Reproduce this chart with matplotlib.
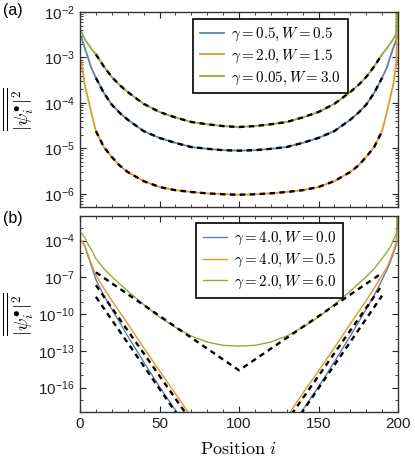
import numpy as np
import matplotlib
matplotlib.use("Agg")
import matplotlib.pyplot as plt
from matplotlib.ticker import LogLocator, MultipleLocator, FixedLocator, NullFormatter
from matplotlib.font_manager import FontProperties

plt.rcParams["font.family"] = "Liberation Sans"
plt.rcParams["mathtext.fontset"] = "custom"
plt.rcParams["mathtext.rm"] = "Liberation Sans"
plt.rcParams["mathtext.it"] = "Liberation Sans:italic"
plt.rcParams["mathtext.bf"] = "Liberation Sans:bold"

pos = [0, 1, 3, 5, 7, 10, 15, 20, 25, 30, 40, 50, 60, 70, 80, 90, 100,
       110, 120, 130, 140, 150, 160, 170, 175, 180, 185, 190, 193, 195, 197, 199, 200]

# panel (a), log10 of the averaged density
a_blue = [-2.54, -2.57, -2.79, -3.0, -3.22, -3.45, -3.78, -4.04, -4.22, -4.37, -4.62, -4.77, -4.88, -4.97, -5.01, -5.04, -5.05,
          -5.04, -5.01, -4.97, -4.88, -4.77, -4.62, -4.37, -4.22, -4.04, -3.78, -3.45, -3.22, -3.0, -2.79, -2.6, 0.0]
a_orange = [-3.05, -3.1, -3.6, -3.9, -4.2, -4.62, -4.97, -5.19, -5.38, -5.52, -5.72, -5.85, -5.92, -5.96, -5.99, -6.01, -6.02,
            -6.01, -5.99, -5.96, -5.92, -5.85, -5.72, -5.52, -5.38, -5.19, -4.97, -4.62, -4.2, -3.9, -3.6, -3.12, 0.0]
a_green = [-2.43, -2.44, -2.6, -2.7, -2.8, -2.93, -3.2, -3.43, -3.61, -3.76, -4.02, -4.2, -4.32, -4.42, -4.47, -4.51, -4.53,
           -4.51, -4.47, -4.42, -4.32, -4.2, -4.02, -3.76, -3.61, -3.43, -3.2, -2.93, -2.8, -2.7, -2.6, -2.47, 0.0]

# panel (b)
b_blue = [-4.0, -4.02, -4.45, -5.25, -6.0, -7.2, -8.5, -9.6, -10.7, -11.8, -13.9, -15.95, -17.85, -19.9, -21.7, -23.0, -23.4,
          -23.0, -21.7, -19.9, -17.85, -15.95, -13.9, -11.8, -10.7, -9.6, -8.5, -7.2, -6.4, -5.8, -5.1, -4.3, 0.0]
b_orange = [-3.97, -3.99, -4.4, -5.15, -5.85, -6.85, -7.9, -8.9, -9.85, -10.8, -12.75, -14.65, -16.5, -18.4, -20.1, -21.3, -21.7,
            -21.3, -20.1, -18.4, -16.5, -14.65, -12.75, -10.8, -9.85, -8.9, -7.9, -6.85, -6.2, -5.6, -4.9, -4.1, 0.0]
b_green = [-3.37, -3.4, -3.75, -4.3, -4.7, -5.47, -6.3, -6.95, -7.55, -8.13, -9.22, -10.25, -11.09, -11.8, -12.29, -12.56, -12.62,
           -12.56, -12.29, -11.8, -11.09, -10.25, -9.22, -8.13, -7.55, -6.95, -6.3, -5.47, -4.95, -4.55, -4.0, -3.42, 0.0]

# asymptotic (dashed) estimates in panel (b)
fit_pos = [10, 100, 190]
fit_blue = [-8.6, -25.5, -8.5]
fit_orange = [-7.65, -24.3, -7.65]
fit_green = [-6.6, -14.6, -6.65]

labels_a = [r"$\gamma = 0.5, W = 0.5$", r"$\gamma = 2.0, W = 1.5$", r"$\gamma = 0.05, W = 3.0$"]
labels_b = [r"$\gamma = 4.0, W = 0.0$", r"$\gamma = 4.0, W = 0.5$", r"$\gamma = 2.0, W = 6.0$"]
colors = ["#5E81B5", "#E19C24", "#8FB032"]

pos = np.array(pos)
inner = (pos >= 10) & (pos <= 190)

W, H = 415, 462
fig = plt.figure(figsize=(W / 100, H / 100), dpi=100)
ax1 = fig.add_axes([80 / W, 1 - 207 / H, 318 / W, 195 / H])
ax2 = fig.add_axes([80 / W, 1 - 412 / H, 318 / W, 196 / H])

cm = FontProperties(family="DejaVu Serif", size=10.8, math_fontfamily="cm")
dash = dict(color="black", lw=1.7, dashes=(2.3, 1.9))

for vals, c, lab in zip([a_blue, a_orange, a_green], colors, labels_a):
    ax1.plot(pos, 10.0 ** np.array(vals), color=c, lw=1.3, label=lab)
for vals in [a_blue, a_orange, a_green]:
    ax1.plot(pos[inner], 10.0 ** np.array(vals)[inner], **dash)

for vals, c, lab in zip([b_blue, b_orange, b_green], colors, labels_b):
    ax2.plot(pos, 10.0 ** np.array(vals), color=c, lw=1.0, label=lab)
for vals in [fit_blue, fit_orange, fit_green]:
    ax2.plot(fit_pos, 10.0 ** np.array(vals), **dash)

for ax in (ax1, ax2):
    ax.set_yscale("log")
    ax.set_xlim(0, 200)
    ax.xaxis.set_major_locator(MultipleLocator(50))
    ax.xaxis.set_minor_locator(MultipleLocator(10))
    ax.tick_params(which="both", direction="in", top=True, right=True, labelsize=11, colors="#222222")
    ax.tick_params(which="major", length=4, width=0.8)
    ax.tick_params(which="minor", length=2.2, width=0.6)
    for s in ax.spines.values():
        s.set_linewidth(1.0)
        s.set_color("#333333")
    ax.set_ylabel(r"$\overline{\overline{|\psi_i^{\bullet}|^2}}$", fontproperties=FontProperties(size=13.5, math_fontfamily="cm"))
    ax.yaxis.set_label_coords(-0.14, 0.5)

ax1.set_ylim(10 ** -6.29, 1e-2)
ax1.yaxis.set_major_locator(LogLocator(base=10, numticks=10))
ax1.yaxis.set_minor_locator(LogLocator(base=10, subs=np.arange(2, 10), numticks=20))
ax1.yaxis.set_minor_formatter(NullFormatter())
ax1.tick_params(labelbottom=False)

ax2.set_ylim(1e-18, 1e-2)
ax2.yaxis.set_major_locator(FixedLocator([1e-4, 1e-7, 1e-10, 1e-13, 1e-16]))
ax2.yaxis.set_minor_locator(FixedLocator([10.0 ** k for k in range(-18, -1)]))
ax2.yaxis.set_minor_formatter(NullFormatter())
ax2.set_xlabel(r"$\mathrm{Position}\ i$", fontproperties=FontProperties(size=13, math_fontfamily="cm"), labelpad=7)

leg_kw = dict(loc="upper left", borderaxespad=0, fancybox=False, framealpha=1, edgecolor="black",
              prop=cm, handlelength=1.6, handletextpad=0.5, labelspacing=0.3, borderpad=0.45)
l1 = ax1.legend(bbox_to_anchor=(0.355, 0.965), **leg_kw)
l2 = ax2.legend(bbox_to_anchor=(0.365, 0.964), **leg_kw)
for lg in (l1, l2):
    lg.get_frame().set_linewidth(1.2)

fig.text(3 / W, 1 - 11 / H, "(a)", fontsize=11.5, va="center")
fig.text(3 / W, 1 - 218 / H, "(b)", fontsize=11.5, va="center")

fig.savefig("out.png", dpi=100)
